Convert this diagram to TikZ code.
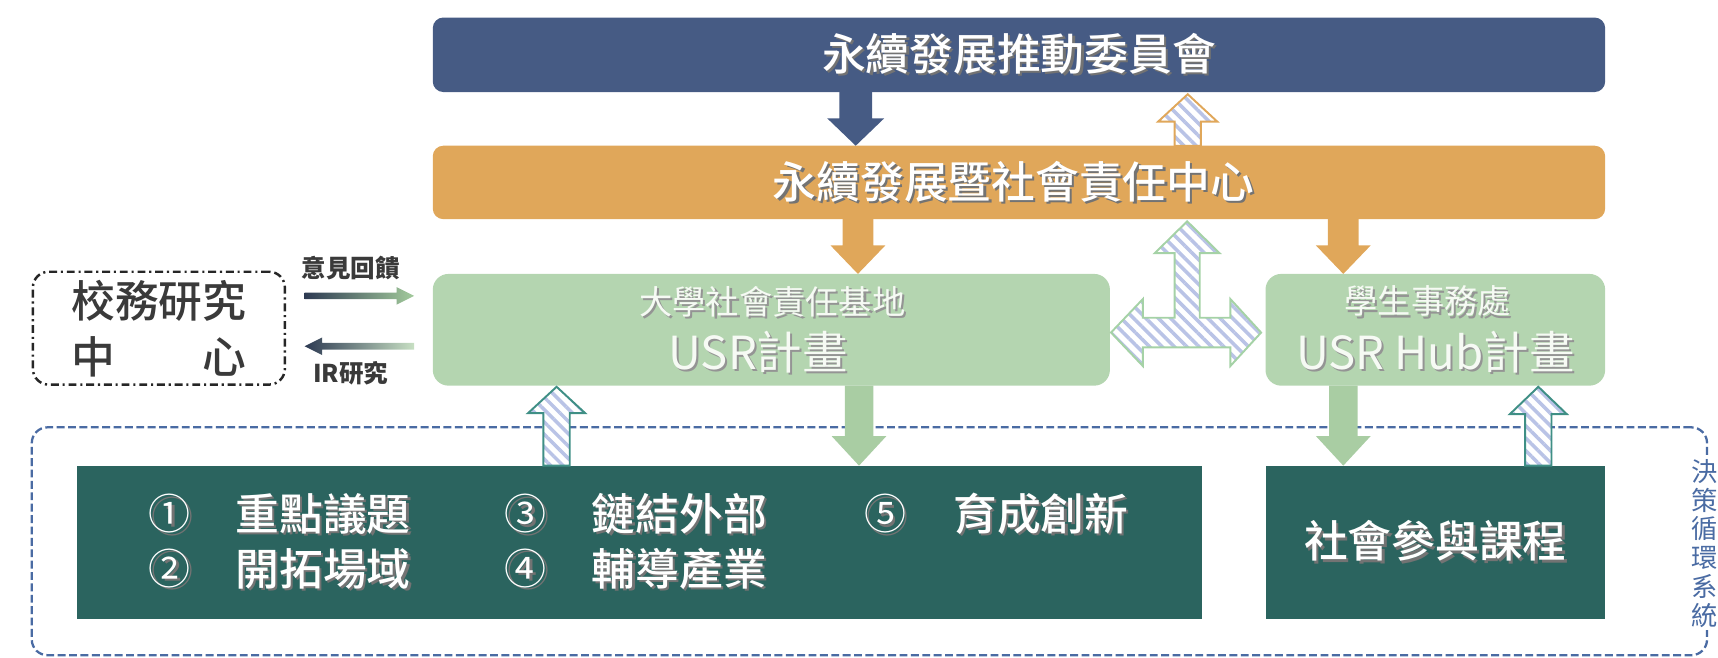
\documentclass[tikz,border=0pt]{standalone}
\usepackage{fontspec}
\setmainfont{Noto Sans CJK TC}
\newfontfamily\medfont{Noto Sans CJK TC}[UprightFont=* Medium]
\usetikzlibrary{calc,patterns.meta}
\definecolor{cblue}{HTML}{465B84}
\definecolor{corange}{HTML}{E0A75A}
\definecolor{cgreenl}{HTML}{B4D5B0}
\definecolor{cgarrow}{HTML}{A9CDA3}
\definecolor{cteal}{HTML}{2B645F}
\definecolor{cdash}{HTML}{4A6BA3}
\definecolor{cstripe}{HTML}{B9C3E6}
\definecolor{chatchG}{HTML}{A5D2A6}
\definecolor{chatchT}{HTML}{3F8F85}
\definecolor{cnavy}{HTML}{2D3A52}
\definecolor{cgrad}{HTML}{A3CB9C}
\definecolor{ctext}{HTML}{3A3A3A}
\definecolor{cwgreen}{HTML}{F6FAF4}
\newcommand\shd[1]{\leavevmode\rlap{\kern1.3pt\raisebox{-1.3pt}{\textcolor{black!55}{#1}}}#1}
\newcommand\shl[1]{\leavevmode\rlap{\kern1.2pt\raisebox{-1.2pt}{\textcolor{black!42}{#1}}}#1}
% vertical block arrow: style, x, y tail, y head base, y tip, shaft half width, head half width
\newcommand\varrow[7]{\path[#1] ({#2-#6},#3) -- ({#2-#6},#4) -- ({#2-#7},#4) -- (#2,#5) -- ({#2+#7},#4) -- ({#2+#6},#4) -- ({#2+#6},#3) -- cycle;}
\tikzset{
  panel/.style={rectangle, rounded corners=6pt},
  wtitle/.style={text=white, font=\medfont\fontsize{25}{28}\selectfont},
  wsub/.style={text=cwgreen, font=\fontsize{19}{22}\selectfont},
  wbig/.style={text=cwgreen, font=\fontsize{26}{30}\selectfont},
  item/.style={text=white, font=\medfont\fontsize{25}{28}\selectfont},
  num/.style={text=white, font=\fontsize{24}{28}\selectfont},
  dtext/.style={text=ctext, font=\medfont\fontsize{25}{28}\selectfont},
  stext/.style={text=ctext, font=\bfseries\fontsize{14}{16}\selectfont},
  hatch/.style={preaction={fill=white}, preaction={pattern={Lines[angle=-45,distance=5pt,line width=2pt]}, pattern color=cstripe}, draw=#1, line width=1.1pt, line join=miter},
}
\begin{document}
\begin{tikzpicture}[x=0.022cm,y=-0.022cm, every node/.style={inner sep=0pt, outer sep=0pt}]
\useasboundingbox (0,0) rectangle (1568,600);
% outer decision loop
\node[rectangle, rounded corners=9pt, draw=cdash, line width=1.3pt, dash pattern=on 4.5pt off 2pt, minimum width=1529*0.022cm, minimum height=208*0.022cm] (loop) at (793.5,494) {};
\node[fill=white, inner sep=1.5pt, text=cdash, font=\fontsize{15}{16.5}\selectfont, align=center] (looplabel) at (1556,496) {決\\策\\循\\環\\系\\統};
% main boxes
\node[panel, fill=cblue, minimum width=1070*0.022cm, minimum height=68*0.022cm] (committee) at (930,50) {};
\node[wtitle] (committeeT) at (930,50) {\shd{永續發展推動委員會}};
\node[panel, fill=corange, minimum width=1070*0.022cm, minimum height=67*0.022cm] (center) at (930,166.5) {};
\node[wtitle] (centerT) at (925,167) {\shd{永續發展暨社會責任中心}};
\node[panel, rounded corners=9pt, fill=cgreenl, minimum width=618*0.022cm, minimum height=102*0.022cm] (usr) at (704,301) {};
\node[wsub] (usrA) at (705,276) {\shl{大學社會責任基地}};
\node[wbig] (usrB) at (692,322) {\shl{USR計畫}};
\node[panel, rounded corners=9pt, fill=cgreenl, minimum width=310*0.022cm, minimum height=102*0.022cm] (hub) at (1310,301) {};
\node[wsub] (hubA) at (1303,276) {\shl{學生事務處}};
\node[wbig] (hubB) at (1310,322) {\shl{USR Hub計畫}};
\node[rectangle, rounded corners=9pt, fill=white, draw=black!85, line width=1.4pt, dash pattern=on 4.5pt off 2.2pt on 1.2pt off 2.2pt, minimum width=230*0.022cm, minimum height=103*0.022cm] (research) at (145,299.5) {};
\node[dtext] (researchA) at (145,275) {校務研究};
\node[dtext] (researchB) at (85,326) {中};
\node[dtext] (researchC) at (205,326) {心};
\node[rectangle, fill=cteal, minimum width=1027*0.022cm, minimum height=140*0.022cm] (issues) at (583.5,495) {};
\node[rectangle, fill=cteal, minimum width=310*0.022cm, minimum height=140*0.022cm] (course) at (1310,495) {};
\node[num] (n1) at (155,470) {\shd{①}};
\node[item] (t1) at (295,470) {\shd{重點議題}};
\node[num] (n2) at (155,520) {\shd{②}};
\node[item] (t2) at (295,520) {\shd{開拓場域}};
\node[num] (n3) at (480,470) {\shd{③}};
\node[item] (t3) at (620,470) {\shd{鏈結外部}};
\node[num] (n4) at (480,520) {\shd{④}};
\node[item] (t4) at (620,520) {\shd{輔導產業}};
\node[num] (n5) at (808,470) {\shd{⑤}};
\node[item] (t5) at (950,470) {\shd{育成創新}};
\node[item] (courseT) at (1310,495) {\shd{社會參與課程}};
% feedback arrows
\node[stext] (fbL) at (320,245) {意見回饋};
\node[stext] (irL) at (320,341) {IR研究};
\shade[left color=cnavy, middle color=cnavy!75!cgrad, right color=cgrad] (278,267) -- (362,267) -- (362,262) -- (378,270) -- (362,278) -- (362,273) -- (278,273) -- cycle;
\shade[left color=cnavy, middle color=cnavy!65!cgrad, right color=cgrad!60!white] (378,313) -- (294,313) -- (294,308) -- (278,316) -- (294,324) -- (294,319) -- (378,319) -- cycle;
% block arrows
\varrow{fill=cblue}{781}{84}{108}{133}{15}{26}
\varrow{hatch=corange}{1084}{133}{111}{86}{12}{27}
\varrow{fill=corange}{783}{200}{224}{250}{14}{25}
\varrow{fill=corange}{1226}{200}{224}{250}{14}{25}
\varrow{fill=cgarrow}{784}{352}{398}{425}{13}{25}
\varrow{fill=cgarrow}{1226}{352}{398}{425}{13}{25}
\varrow{hatch=chatchT}{508}{425}{377}{353}{12}{26}
\varrow{hatch=chatchT}{1404}{425}{378}{353}{12}{26}
% three-way arrow
\path[hatch=chatchG] (1083.5,202) -- (1113,231) -- (1095,231) -- (1095,290) -- (1123,290) -- (1123,273) -- (1151,303.5) -- (1123,334) -- (1123,317) -- (1043,317) -- (1043,334) -- (1014,303.5) -- (1043,273) -- (1043,290) -- (1072,290) -- (1072,231) -- (1054,231) -- cycle;
\end{tikzpicture}
\end{document}
